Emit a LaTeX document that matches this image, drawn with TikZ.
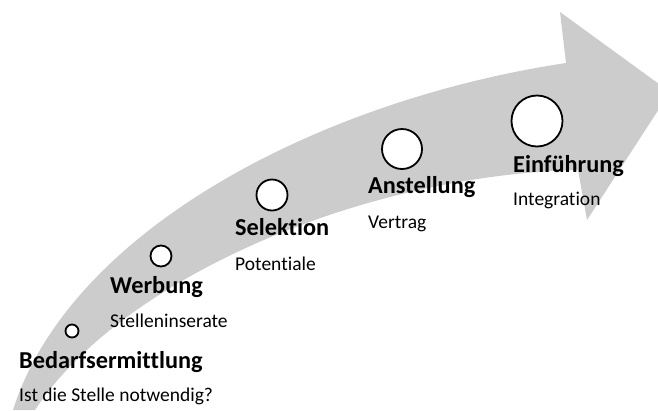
\documentclass[tikz,border=0pt]{standalone}
\usepackage{fontspec}
\setmainfont{Carlito}[Ligatures=NoCommon]

\definecolor{arrowgray}{RGB}{204,204,204}

\begin{document}
\begin{tikzpicture}[
  x=1pt, y=-1pt,
  band/.style={fill=arrowgray, draw=none},
  stage/.style={circle, draw=black, fill=white, line width=1.8pt, inner sep=0pt},
  stagename/.style={anchor=base west, inner sep=0pt,
    font=\fontsize{24.3}{29}\selectfont\bfseries},
  stagenote/.style={anchor=base west, inner sep=0pt,
    font=\fontsize{19.5}{23}\selectfont},
]
\useasboundingbox (0,0) rectangle (658,410);
\clip (0,0) rectangle (658,410);

% Curved process arrow
\fill[band] (13,410) .. controls (70,230) and (320,100) .. (566,63)
  -- (560,12) -- (670,92) -- (587,220) -- (578,170)
  .. controls (360,175) and (120,280) .. (35,410) -- cycle;

% Stages, growing along the arrow
\node[stage, minimum size=13pt] (bedarf) at (72,331) {};
\node[stage, minimum size=21pt] (werb) at (161,256) {};
\node[stage, minimum size=31pt] (selek) at (272,195) {};
\node[stage, minimum size=40pt] (anst) at (402,149) {};
\node[stage, minimum size=51pt] (einf) at (537,121) {};

% Stage names and notes
\node[stagename] (bedarf-t) at (19,368) {Bedarfsermittlung};
\node[stagenote] (bedarf-s) at (19,401) {Ist die Stelle notwendig?};
\node[stagename] (werb-t) at (110,293) {Werbung};
\node[stagenote] (werb-s) at (110,327) {Stelleninserate};
\node[stagename] (selek-t) at (235,235) {Selektion};
\node[stagenote] (selek-s) at (235,270) {Potentiale};
\node[stagename] (anst-t) at (368,193) {Anstellung};
\node[stagenote] (anst-s) at (368,228) {Vertrag};
\node[stagename] (einf-t) at (513,172) {Einführung};
\node[stagenote] (einf-s) at (513,205) {Integration};
\end{tikzpicture}
\end{document}
